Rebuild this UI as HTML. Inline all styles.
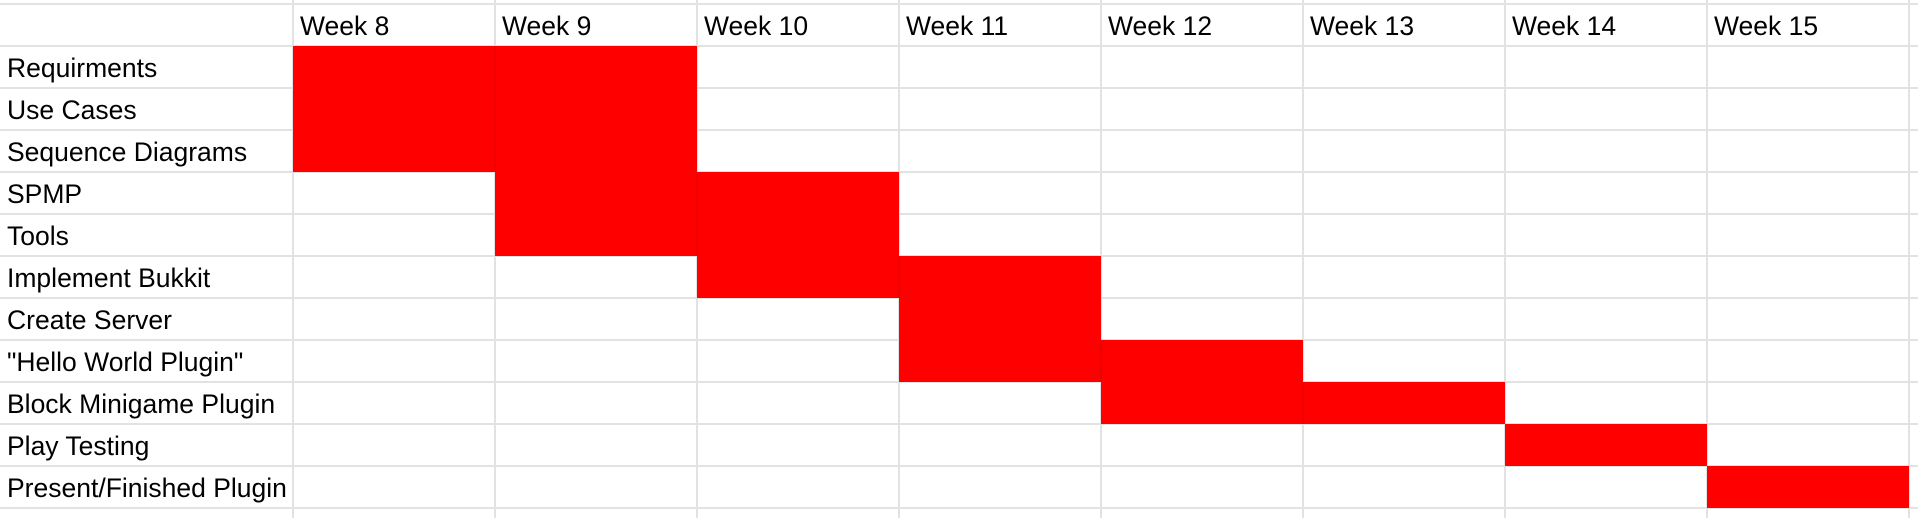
<!DOCTYPE html>
<html><head><meta charset="utf-8"><style>
html,body{margin:0;padding:0;background:#fff;width:1918px;height:518px;overflow:hidden}
svg text{font-family:"Liberation Sans",Arial,sans-serif;font-size:26.5px;fill:#000}
</style></head><body>
<svg id="chart" width="1918" height="518" xmlns="http://www.w3.org/2000/svg"></svg>
<script>
const weeks = ["Week 8","Week 9","Week 10","Week 11","Week 12","Week 13","Week 14","Week 15"];
const tasks = ["Requirments","Use Cases","Sequence Diagrams","SPMP","Tools","Implement Bukkit","Create Server","\"Hello World Plugin\"","Block Minigame Plugin","Play Testing","Present/Finished Plugin"];
const startWeek = [0,0,0,1,1,2,3,3,4,6,7];
const spanWeeks = [2,2,2,2,2,2,1,2,2,1,1];

const NS="http://www.w3.org/2000/svg";
const svg=document.getElementById('chart');
const labelW=293, colW=202, top0=4, rowH=42;
const x=i=>labelW+i*colW;
const y=r=>top0+rowH+r*rowH;
function mk(tag,attrs){const e=document.createElementNS(NS,tag);for(const k in attrs)e.setAttribute(k,attrs[k]);svg.appendChild(e);return e;}

for(let r=-1;r<=tasks.length;r++){
  const g=mk('line',{x1:0,x2:1918,y1:y(r),y2:y(r),stroke:'#e2e2e2','stroke-width':2});
  
  
}
for(let c=0;c<=weeks.length;c++){
  const g=mk('line',{x1:x(c),x2:x(c),y1:0,y2:518,stroke:'#e2e2e2','stroke-width':2});
  
  
}
tasks.forEach((t,i)=>{
  const b=mk('rect',{x:x(startWeek[i]),y:y(i),width:spanWeeks[i]*colW,height:rowH,fill:'#ff0000'});
  
  
  for(let k=1;k<spanWeeks[i];k++){
    const l=mk('line',{x1:x(startWeek[i]+k),x2:x(startWeek[i]+k),y1:y(i),y2:y(i+1),stroke:'#e00000','stroke-width':1});
    
    
  }
});
weeks.forEach((w,i)=>{
  const t=mk('text',{x:x(i)+7,y:top0+31});
  t.textContent=w;
  
  
});
tasks.forEach((n,i)=>{
  const t=mk('text',{x:7,y:y(i)+31});
  t.textContent=n;
  
  
});
</script>
</body></html>
